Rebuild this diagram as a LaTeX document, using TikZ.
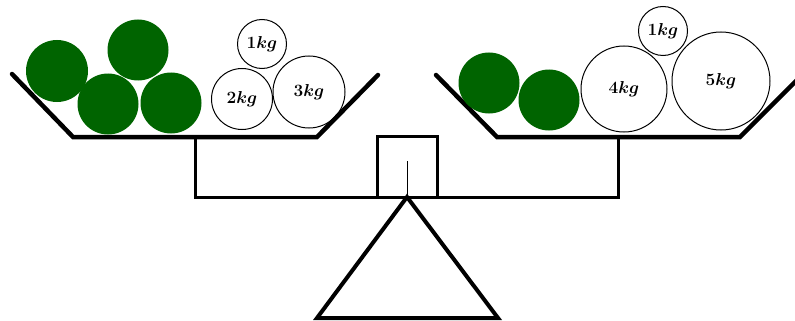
\documentclass[tikz,border=0pt]{standalone}
\usepackage{amsmath}
\usepackage{tikz}
\definecolor{ballgreen}{RGB}{0,100,0}

\begin{document}
\begin{tikzpicture}[x=1pt, y=-1pt,
    pan/.style={line width=4.5pt, line cap=round, line join=miter},
    frame/.style={line width=3pt},
    ball/.style={circle, fill=ballgreen, inner sep=0pt, minimum size=#1},
    weight/.style={circle, draw, line width=1pt, inner sep=0pt, minimum size=#1, font=\fontsize{18.5}{22}\selectfont}]
    \useasboundingbox (0,0) rectangle (795,321);

    % pans
    \coordinate (L1) at (12,74);
    \coordinate (L2) at (73,137);
    \coordinate (L3) at (317,137);
    \coordinate (L4) at (378,75);
    \coordinate (R1) at (436,75);
    \coordinate (R2) at (497,137);
    \coordinate (R3) at (740,137);
    \coordinate (R4) at (802,75);
    \draw[pan] (L1) -- (L2) -- (L3) -- (L4);
    \draw[pan] (R1) -- (R2) -- (R3) -- (R4);

    % beam and stand
    \coordinate (LS) at (195,137);
    \coordinate (RS) at (618,137);
    \coordinate (LB) at (195,197);
    \coordinate (RB) at (618,197);
    \coordinate (P) at (407,197);
    \coordinate (Q) at (407,161);
    \draw[frame] (LS) -- (LB) -- (RB) -- (RS);
    \draw[frame] (377,197) -- (377,136) -- (437,136) -- (437,197);
    \draw[line width=0.8pt] (Q) -- (P);
    \draw[line width=4pt, line join=miter] (P) -- (317,318) -- (498,318) -- cycle;

    % left pan load
    \node[ball=62] (lg1) at (57,71) {};
    \node[ball=61] (lg2) at (138,50) {};
    \node[ball=61] (lg3) at (108,104) {};
    \node[ball=61] (lg4) at (171,103) {};
    \node[weight=49] (lw1) at (262,44) {$\boldsymbol{1kg}$};
    \node[weight=61] (lw2) at (242,99) {$\boldsymbol{2kg}$};
    \node[weight=72] (lw3) at (309,92) {$\boldsymbol{3kg}$};

    % right pan load
    \node[ball=61] (rg1) at (489,83) {};
    \node[ball=61] (rg2) at (549,100) {};
    \node[weight=86] (rw4) at (624,89) {$\boldsymbol{4kg}$};
    \node[weight=49] (rw1) at (663,31) {$\boldsymbol{1kg}$};
    \node[weight=98] (rw5) at (721,81) {$\boldsymbol{5kg}$};
\end{tikzpicture}
\end{document}
